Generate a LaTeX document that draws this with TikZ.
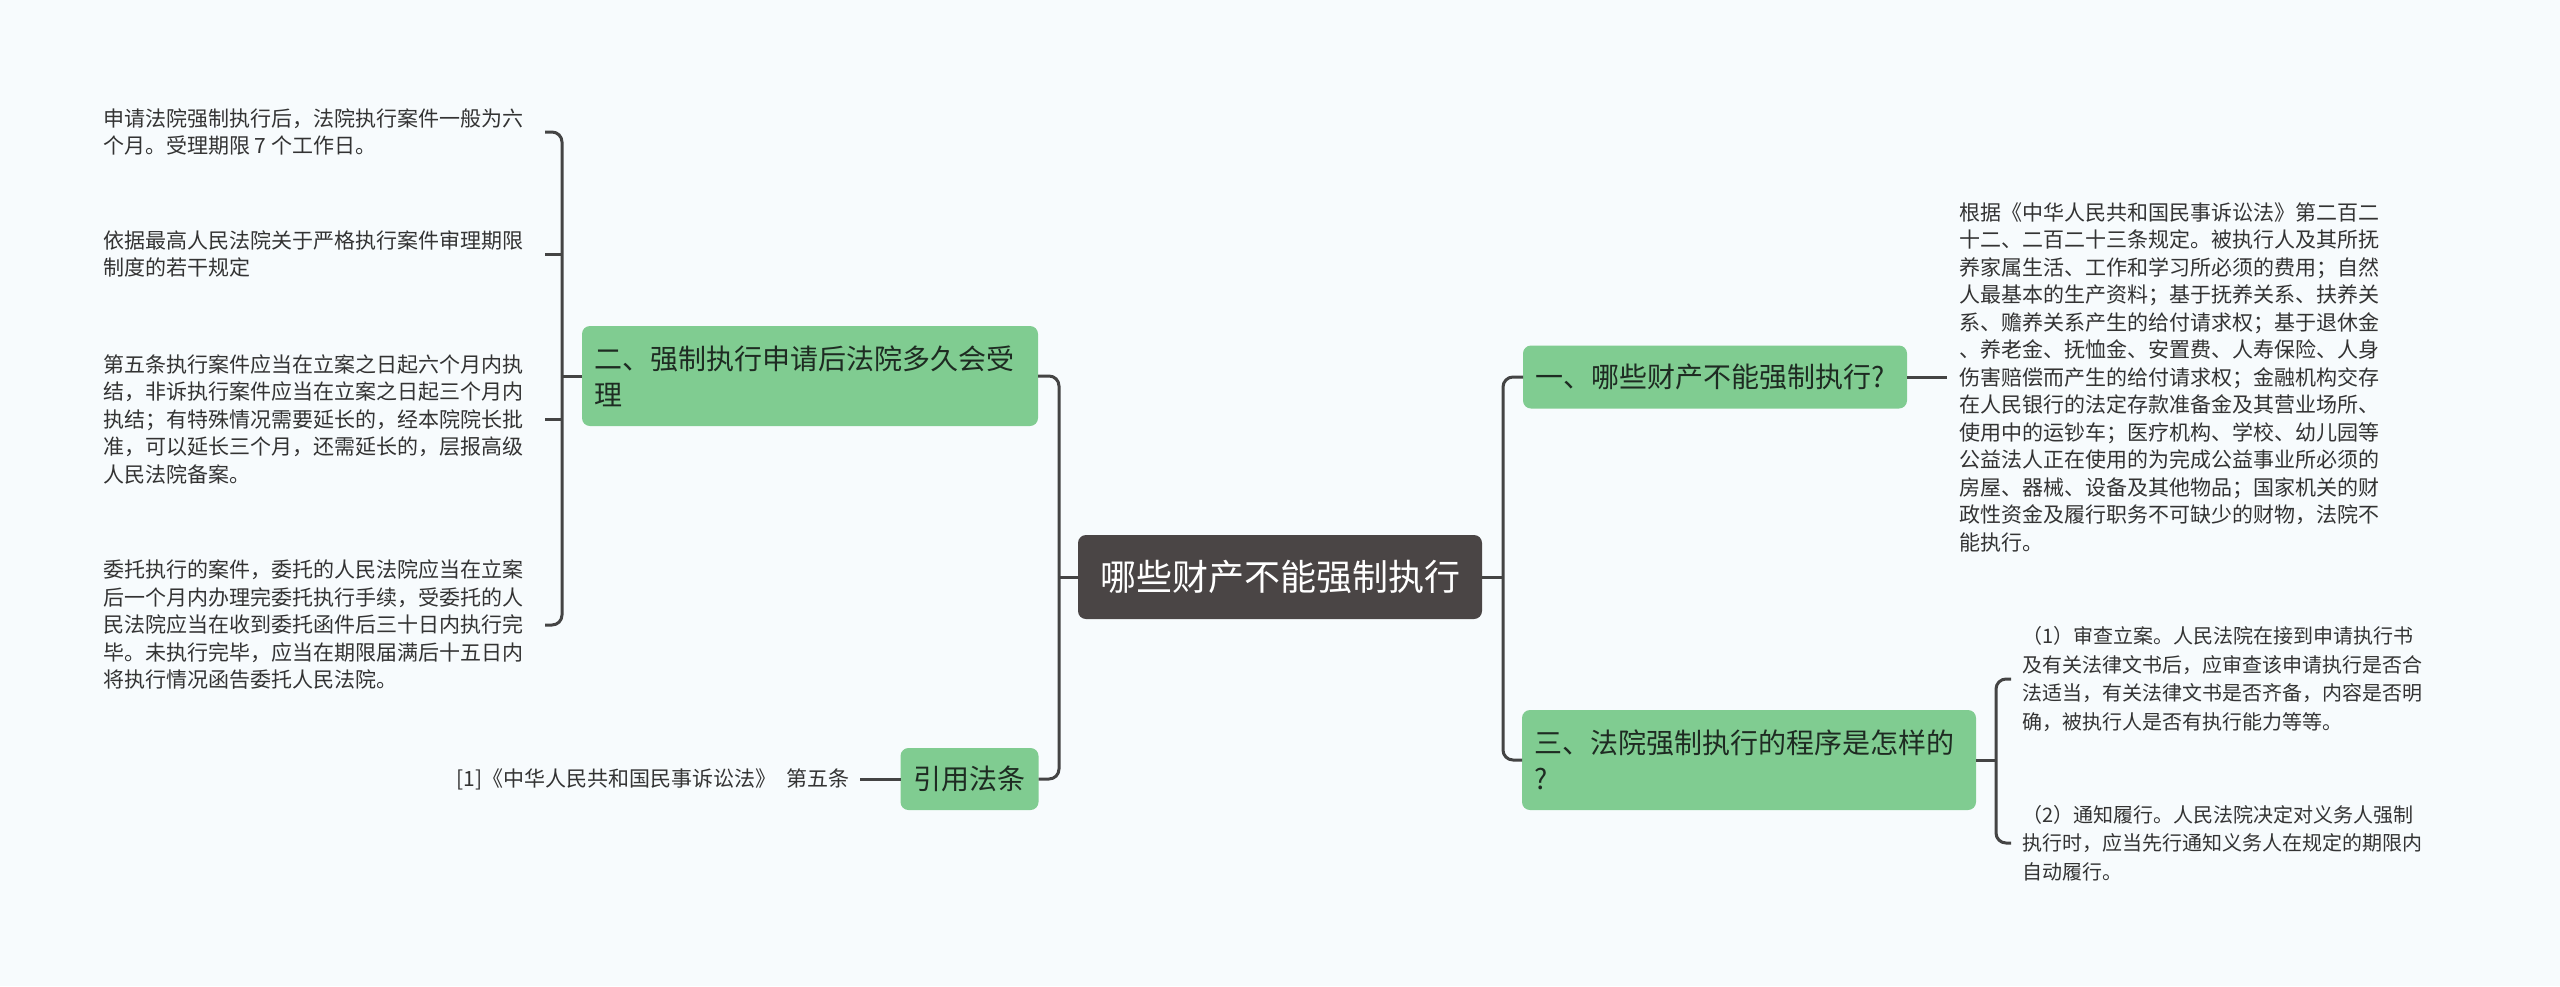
\documentclass[tikz,border=0pt]{standalone}
\usepackage{fontspec}
\newfontfamily\cjk{Noto Sans CJK SC}
\definecolor{bgc}{HTML}{F7FBFD}
\definecolor{greenc}{HTML}{80CC91}
\definecolor{rootc}{HTML}{4A4545}
\definecolor{linec}{HTML}{444444}
\definecolor{leafc}{HTML}{333333}
\definecolor{branchtext}{HTML}{1E2B22}
\begin{document}
\begin{tikzpicture}[x=0.5pt,y=-0.5pt,
  conn/.style={draw=linec, line width=1.5pt, rounded corners=5pt},
  branch/.style={fill=greenc, rounded corners=4pt, text=branchtext,
    font=\cjk\fontsize{14pt}{18pt}\selectfont, inner xsep=6pt, inner ysep=0pt,
    outer sep=0pt, align=left},
  rootbox/.style={fill=rootc, rounded corners=4pt, text=white,
    font=\cjk\fontsize{18pt}{22pt}\selectfont, minimum width=202pt,
    minimum height=42pt, inner sep=0pt, outer sep=0pt},
  leafa/.style={text=leafc, font=\cjk\fontsize{10.5pt}{13.75pt}\selectfont,
    align=left, inner ysep=0pt, outer sep=0pt},
  leafb/.style={text=leafc, font=\cjk\fontsize{10pt}{14.25pt}\selectfont,
    align=left, inner ysep=0pt, outer sep=0pt}
]
\fill[bgc] (0,0) rectangle (2560,986);
\useasboundingbox (0,0) rectangle (2560,986);

% root
\node[rootbox] (root) at (1280,577) {哪些财产不能强制执行};

% branches
\node[branch, text width=216pt, minimum height=50pt] (b2) at (810,376)
  {二、强制执行申请后法院多久会受\\理};
\node[branch, inner xsep=6.5pt, minimum height=31pt] (bref) at (969.5,779) {引用法条};
\node[branch, text width=180pt, minimum height=31.5pt] (b1) at (1715,377)
  {一、哪些财产不能强制执行?};
\node[branch, text width=215pt, minimum height=50pt] (b3) at (1749,760)
  {三、法院强制执行的程序是怎样的\\?};

% left leaves
\node[leafa, inner xsep=11pt, anchor=east] (l1) at (545,132)
  {申请法院强制执行后，法院执行案件一般为六\\个月。受理期限 7 个工作日。};
\node[leafa, inner xsep=11pt, anchor=east] (l2) at (545,254)
  {依据最高人民法院关于严格执行案件审理期限\\制度的若干规定};
\node[leafa, inner xsep=11pt, anchor=east] (l3) at (545,419)
  {第五条执行案件应当在立案之日起六个月内执\\结，非诉执行案件应当在立案之日起三个月内\\执结；有特殊情况需要延长的，经本院院长批\\准，可以延长三个月，还需延长的，层报高级\\人民法院备案。};
\node[leafa, inner xsep=11pt, anchor=east] (l4) at (545,625)
  {委托执行的案件，委托的人民法院应当在立案\\后一个月内办理完委托执行手续，受委托的人\\民法院应当在收到委托函件后三十日内执行完\\毕。未执行完毕，应当在期限届满后十五日内\\将执行情况函告委托人民法院。};
\node[leafa, inner xsep=5pt, anchor=east] (lref) at (860,779)
  {[1]《中华人民共和国民事诉讼法》 \hspace{3pt}第五条};

% right leaves
\node[leafa, inner xsep=6pt, anchor=west] (r1) at (1947,377)
  {根据《中华人民共和国民事诉讼法》第二百二\\十二、二百二十三条规定。被执行人及其所抚\\养家属生活、工作和学习所必须的费用；自然\\人最基本的生产资料；基于抚养关系、扶养关\\系、赡养关系产生的给付请求权；基于退休金\\、养老金、抚恤金、安置费、人寿保险、人身\\伤害赔偿而产生的给付请求权；金融机构交存\\在人民银行的法定存款准备金及其营业场所、\\使用中的运钞车；医疗机构、学校、幼儿园等\\公益法人正在使用的为完成公益事业所必须的\\房屋、器械、设备及其他物品；国家机关的财\\政性资金及履行职务不可缺少的财物，法院不\\能执行。};
\node[leafb, inner xsep=5.5pt, anchor=west] (r2) at (2011,679)
  {（1）审查立案。人民法院在接到申请执行书\\及有关法律文书后，应审查该申请执行是否合\\法适当，有关法律文书是否齐备，内容是否明\\确，被执行人是否有执行能力等等。};
\node[leafb, inner xsep=5.5pt, anchor=west] (r3) at (2011,843)
  {（2）通知履行。人民法院决定对义务人强制\\执行时，应当先行通知义务人在规定的期限内\\自动履行。};

% junctions
\coordinate (jl) at (1059,577);
\coordinate (jr) at (1503,577);
\coordinate (jll) at (562,376);
\coordinate (jb3) at (1996,760);

% connectors
\draw[conn] (root.west) -- (jl);
\draw[conn] (b2.east) -| (jl) |- (bref.east);
\draw[conn] (root.east) -- (jr);
\draw[conn] (b1.west) -| (jr) |- (b3.west);
\draw[conn] (b1.east) -- (r1.west);
\draw[conn] (b3.east) -- (jb3);
\draw[conn] (r2.west) -| (jb3) |- (r3.west);
\draw[conn] (b2.west) -- (jll);
\draw[conn] (l1.east) -| (jll) |- (l4.east);
\draw[conn] (l2.east) -- (l2.east -| jll);
\draw[conn] (l3.east) -- (l3.east -| jll);
\draw[conn] (lref.east) -- (bref.west);
\end{tikzpicture}
\end{document}
